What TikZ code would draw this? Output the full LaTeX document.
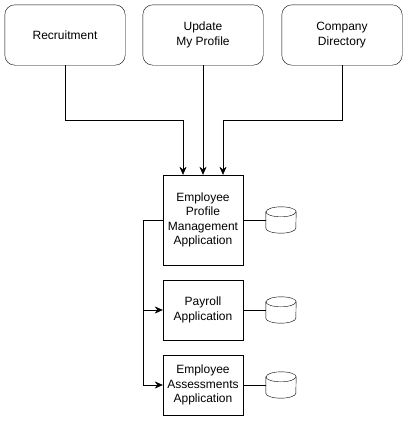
\documentclass[tikz,border=0pt]{standalone}
\usepackage{fontspec}
\setmainfont{Liberation Sans}
\usetikzlibrary{arrows.meta}

\newcommand\dbdraw[1]{%
  \draw[fill=white] ([yshift=-5pt]#1.north west) -- ([yshift=5pt]#1.south west)
    arc[start angle=180,end angle=360,x radius=15pt,y radius=5pt]
    -- ([yshift=-5pt]#1.north east)
    arc[start angle=0,end angle=180,x radius=15pt,y radius=5pt] -- cycle;
  \draw ([yshift=-5pt]#1.north west)
    arc[start angle=180,end angle=360,x radius=15pt,y radius=5pt];}
\newcommand\portaldraw[1]{%
  \draw[rounded corners=10pt] (#1.north west) -- (#1.north east)
    -- (#1.south east) -- (#1.south west) -- cycle;}

\begin{document}
\begin{tikzpicture}[x=1pt,y=1pt,
        font=\fontsize{12}{14.5}\selectfont,
        >={Stealth[length=8pt,width=7pt]},
        portal/.style={minimum width=120pt,minimum height=60pt,align=center},
        appbox/.style={draw,minimum width=80pt,align=center},
        store/.style={minimum width=30pt,minimum height=26pt,inner sep=0pt}]
        \useasboundingbox (0,0) rectangle (418,-432);
        % top row
        \node[portal] (recruit) at (65,-35) {Recruitment};
        \node[portal] (profile) at (203,-35) {Update\\My Profile};
        \node[portal] (directory) at (342,-35) {Company\\Directory};
        \portaldraw{recruit}
        \portaldraw{profile}
        \portaldraw{directory}
        % applications
        \node[appbox,minimum height=90pt] (epm) at (203,-220) {Employee\\Profile\\Management\\Application};
        \node[appbox,minimum height=60pt] (payroll) at (203,-310) {Payroll\\Application};
        \node[appbox,minimum height=60pt] (assess) at (203,-385) {Employee\\Assessments\\Application};
        % databases
        \node[store] (epmdb) at (281,-220) {};
        \node[store] (paydb) at (281,-310) {};
        \node[store] (assessdb) at (281,-385) {};
        \dbdraw{epmdb}
        \dbdraw{paydb}
        \dbdraw{assessdb}
        % connectors
        \draw[->] (recruit.south) -- ++(0,-55) -| ([xshift=-20pt]epm.north);
        \draw[->] (profile.south) -- (epm.north);
        \draw[->] (directory.south) -- ++(0,-55) -| ([xshift=20pt]epm.north);
        \draw[->] (epm.west) -- ++(-20,0) |- (payroll.west);
        \draw[->] (epm.west) -- ++(-20,0) |- (assess.west);
        \draw (epm.east) -- (epmdb.west);
        \draw (payroll.east) -- (paydb.west);
        \draw (assess.east) -- (assessdb.west);
\end{tikzpicture}
\end{document}
